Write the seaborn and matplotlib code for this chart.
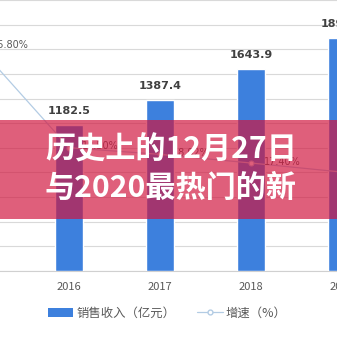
import matplotlib
matplotlib.use("Agg")
import matplotlib.pyplot as plt
from matplotlib.patches import Rectangle, Patch
from matplotlib.lines import Line2D
import seaborn as sns
import pandas as pd

# ---- data ----
bar_years = [2016, 2017, 2018, 2019]
sales = [1182.5, 1387.4, 1643.9, 1895.3]          # 销售收入（亿元）
growth_years = [2015, 2016, 2017, 2018, 2019]
growth = [25.80, 18.50, 18.02, 17.40, 16.75]      # 增速（%）
tick_labels = ["2016", "2017", "2018", "2019"]
legend_labels = ["销售收入（亿元）", "增速（%）"]
title_lines = ["历史上的12月27日", "与2020最热门的新"]

BAR_COLOR = "#3d80dd"
LINE_COLOR = "#b3cce4"
TEXT_GRAY = "#595959"

sns.set_style("white")
plt.rcParams["font.family"] = ["Noto Sans CJK SC", "DejaVu Sans"]

W = H = 337
fig = plt.figure(figsize=(3.37, 3.37), dpi=100)

# axes extends beyond the (cropped) figure
ax = fig.add_axes([-67.5 / W, (H - 271) / H, 455 / W, 271 / H])

df_bar = pd.DataFrame({"year": bar_years, "sales": sales})
sns.barplot(data=df_bar, x="year", y="sales", native_scale=True, width=0.31,
            color=BAR_COLOR, saturation=1, ax=ax, zorder=3)
ax.set_xlim(2014.5, 2019.5)
ax.set_ylim(0, 2200)
ax.set_yticks(range(0, 2201, 200))
ax.yaxis.grid(True, color="#d9d9d9", linewidth=0.8, zorder=0)
ax.set_axisbelow(True)
for s in ["top", "right", "left"]:
    ax.spines[s].set_visible(False)
ax.spines["bottom"].set_color("#d0d0d0")
ax.spines["bottom"].set_linewidth(0.8)
ax.set_xticks(bar_years)
ax.set_xticklabels(tick_labels)
ax.tick_params(axis="x", length=0, pad=8, labelsize=8, labelcolor=TEXT_GRAY)
ax.tick_params(axis="y", left=False, labelleft=False)
ax.set_xlabel("")
ax.set_ylabel("")

for x, v in zip(bar_years, sales):
    ax.annotate(f"{v:.1f}", (x, v), xytext=(0, 10), textcoords="offset points",
                ha="center", va="center", fontsize=8, fontweight="bold",
                color="#404040", family=["DejaVu Sans"])

# growth line on hidden twin axis
ax2 = ax.twinx()
df_line = pd.DataFrame({"year": growth_years, "growth": growth})
sns.lineplot(data=df_line, x="year", y="growth", ax=ax2, color=LINE_COLOR,
             linewidth=0.9, marker="o", markersize=3.5,
             markerfacecolor="white", markeredgecolor=LINE_COLOR,
             markeredgewidth=0.8)
ax2.set_ylim(9.65, 9.65 + 19.45)
ax2.set_xlim(2014.5, 2019.5)
ax2.axis("off")
for x, v in zip(growth_years, growth):
    ax2.annotate(f"{v:.2f}%", (x, v), xytext=(9.5, 1), textcoords="offset points",
                 ha="left", va="center", fontsize=7, color=TEXT_GRAY,
                 family=["DejaVu Sans"])

# legend
handles = [Patch(facecolor=BAR_COLOR, edgecolor="none"),
           Line2D([0], [0], color=LINE_COLOR, linewidth=0.9, marker="o",
                  markersize=3.5, markerfacecolor="white",
                  markeredgecolor=LINE_COLOR)]
fig.legend(handles, legend_labels, loc="center", bbox_to_anchor=(167 / W, (H - 313) / H),
           ncol=2, frameon=False, fontsize=8.9, handlelength=2.1,
           handletextpad=0.25, columnspacing=1.7, labelcolor=TEXT_GRAY)

# overlay banner
fig.add_artist(Rectangle((0, (H - 219) / H), 1, 99 / H, transform=fig.transFigure,
                         facecolor=(0.82, 0.08, 0.24), alpha=0.68,
                         edgecolor="none", zorder=10))
fig.text(45 / W, (H - 149) / H, title_lines[0], color="white", fontsize=21.7,
         fontweight="bold", ha="left", va="center", zorder=11)
fig.text(45 / W, (H - 188) / H, title_lines[1], color="white", fontsize=21.7,
         fontweight="bold", ha="left", va="center", zorder=11)

fig.savefig("out.png", dpi=100)
